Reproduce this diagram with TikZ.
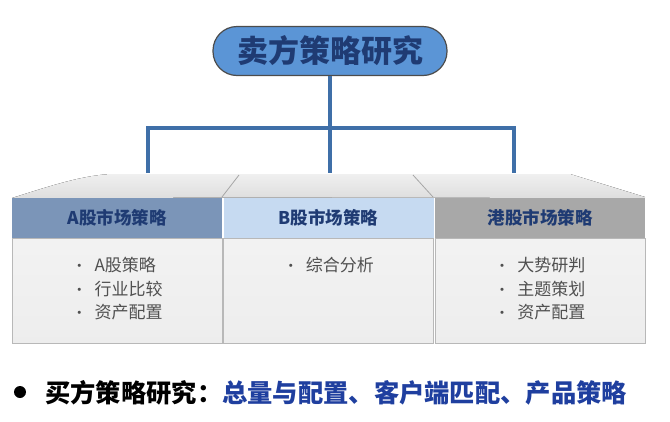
\documentclass[tikz,border=0pt]{standalone}
\usepackage{fontspec}
\newfontfamily\cjk{Noto Sans CJK SC}
\usepackage{xcolor}
\usetikzlibrary{positioning}
\definecolor{navy}{HTML}{1F3B73}
\definecolor{pillblue}{HTML}{5B95D6}
\definecolor{linkblue}{HTML}{3F6FA8}
\definecolor{hdrA}{HTML}{7B95B8}
\definecolor{hdrB}{HTML}{C6DAF1}
\definecolor{hdrC}{HTML}{A8A8A8}
\definecolor{itemgray}{HTML}{505050}
\definecolor{deepblue}{HTML}{1F3F9F}
\newcommand{\dotitem}{{\fontsize{15}{15}\selectfont\textbullet}\ \ }
\begin{document}
\begin{tikzpicture}[x=1pt,y=-1pt,
          link/.style={draw=linkblue,line width=4.5pt},
          hdr/.style={minimum width=210pt,minimum height=40pt,inner sep=0pt,
            font=\cjk\bfseries\fontsize{17.5}{19}\selectfont,text=navy},
          body/.style={draw=black!28,line width=0.8pt,inner sep=0pt,
            top color=white!95!black,bottom color=black!7,
            minimum width=210pt,minimum height=105pt},
          item/.style={font=\cjk\fontsize{17}{23.5}\selectfont,text=itemgray,
            align=left,inner sep=0pt}]
  \useasboundingbox (0,0) rectangle (670,421);
  % top face of the three blocks
  \fill[top color=black!6,bottom color=black!13]
    (12,198) .. controls (50,186) and (80,176) .. (110,174) -- (570,174) -- (645,197) -- cycle;
  \draw[black!35,line width=0.8pt] (222,197) -- (239,175);
  \draw[black!35,line width=0.8pt] (433,197) -- (413,175);
  % headers and bodies
  \node[hdr,fill=hdrA,anchor=north west] (ha) at (12,198) {A股市场策略};
  \node[hdr,fill=hdrB,right=1pt of ha] (hb) {B股市场策略};
  \node[hdr,fill=hdrC,right=1pt of hb] (hc) {港股市场策略};
  \node[body,below=0pt of ha] (ba) {};
  \node[body,below=0pt of hb] (bb) {};
  \node[body,below=0pt of hc] (bc) {};
  \node[item,anchor=north] at ([yshift=-19pt]ba.north) {\dotitem A股策略\\\dotitem 行业比较\\\dotitem 资产配置};
  \node[item,anchor=north] at ([yshift=-19pt]bb.north) {\dotitem 综合分析};
  \node[item,anchor=north] at ([yshift=-19pt]bc.north) {\dotitem 大势研判\\\dotitem 主题策划\\\dotitem 资产配置};
  % title
  \coordinate (ta) at (148,173);
  \coordinate (tb) at (330,173);
  \coordinate (tc) at (514,173);
  \node[draw=black!70,line width=1.2pt,fill=pillblue,rounded corners=24pt,
    minimum width=234pt,minimum height=49pt,text=navy,
    font=\cjk\bfseries\fontsize{31}{33}\selectfont] (title) at (330,51) {卖方策略研究};
  \draw[link] (title.south) -- (tb);
  \draw[link] (ta) -- ++(0,-45) -| (tc);
  % summary line
  \node[circle,fill=black,inner sep=0pt,minimum size=12pt] (bul) at (20,392) {};
  \node[anchor=west,inner sep=0pt,font=\cjk\bfseries\fontsize{25.3}{27}\selectfont] (sum) at (45,393)
    {买方策略研究：\textcolor{deepblue}{总量与配置、客户端匹配、产品策略}};
\end{tikzpicture}
\end{document}
